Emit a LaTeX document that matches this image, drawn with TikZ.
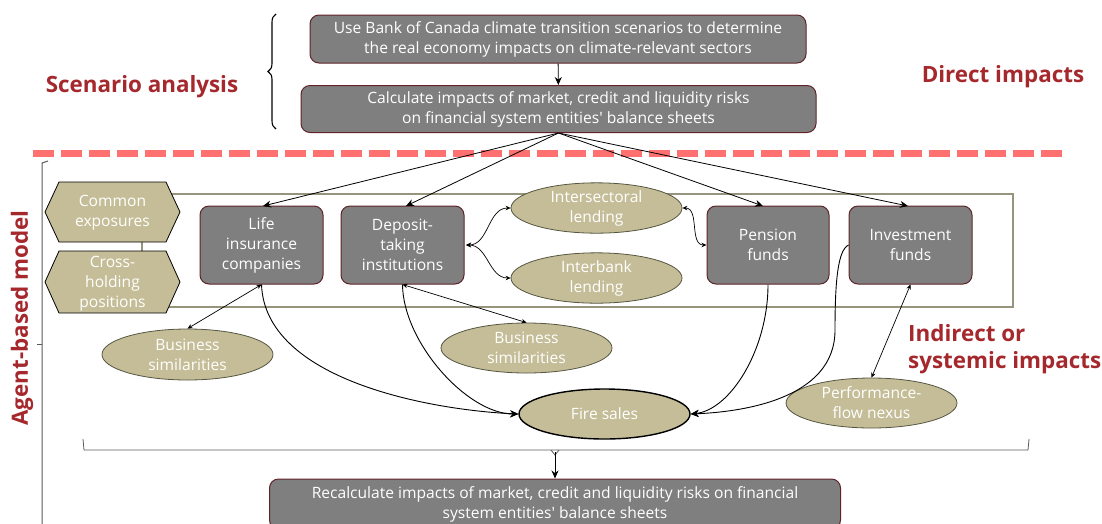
\documentclass[tikz,border=0pt]{standalone}
\usepackage{fontspec}
\setmainfont{Open Sans}
\usetikzlibrary{arrows.meta,shapes.geometric,decorations.pathreplacing}
\definecolor{boxgray}{RGB}{127,127,127}
\definecolor{boxedge}{RGB}{95,35,40}
\definecolor{olivefill}{RGB}{196,189,151}
\definecolor{oliveedge}{RGB}{85,85,65}
\definecolor{headred}{RGB}{165,40,45}
\definecolor{dashred}{RGB}{255,112,112}
\definecolor{frameol}{RGB}{150,148,125}
\definecolor{brgray}{RGB}{90,90,90}
\begin{document}
\begin{tikzpicture}[x=1pt,y=-1pt,
  txt/.style={font=\fontsize{15.6}{20}\selectfont},
  gbox/.style={txt, draw=boxedge, line width=1pt, fill=boxgray, rounded corners=9pt, text=white, align=center, inner sep=0pt},
  oell/.style={txt, ellipse, draw=oliveedge, line width=0.8pt, fill=olivefill, text=white, align=center, inner sep=0pt, minimum width=171pt, minimum height=50pt},
  hexshape/.style={draw=black, line width=0.8pt, fill=olivefill},
  hextext/.style={txt, text=white, align=center, inner sep=0pt},
  head/.style={font=\fontsize{22.4}{27}\selectfont\bfseries, text=headred, align=left, inner sep=0pt},
  arr/.style={-{Stealth[length=8pt,width=7pt]}, line width=0.9pt, black},
  darr/.style={{Stealth[length=5pt,width=4.5pt]}-{Stealth[length=5pt,width=4.5pt]}, line width=0.7pt, black},
  brk/.style={draw=brgray, line width=1pt},
]
\useasboundingbox (0,0) rectangle (1102,523);
\clip (0,0) rectangle (1102,523);

% top boxes
\node[gbox, minimum width=496pt, minimum height=48pt] (top1) at (558,39) {Use Bank of Canada climate transition scenarios to determine\\the real economy impacts on climate-relevant sectors};
\node[gbox, minimum width=515pt, minimum height=47pt] (top2) at (558.5,109) {Calculate impacts of market, credit and liquidity risks\\on financial system entities\textquotesingle{} balance sheets};
\draw[arr] (top1) -- (top2);

% brace
\draw[black, line width=1.1pt, decorate, decoration={brace, amplitude=8pt}] (276,129) -- (276,14);

% headings
\node[head] (scen) at (142,87) {Scenario analysis};
\node[head] (direct) at (1003,77) {Direct impacts};
\node[head, anchor=west] (indirect) at (908,349) {Indirect or\\systemic impacts};
\node[head, rotate=90] (abm) at (22,318) {Agent-based model};

% dashed line
\draw[dashred, line width=7pt, dash pattern=on 21pt off 7pt] (33,153) -- (1062,153);

% left bracket
\draw[brk] (48,161) -- (42,163) -- (42,540);
\draw[brk] (42,344) -- (37,344);

% frame rectangle
\draw[frameol, line width=1.4pt] (142,194) rectangle (1013,307);

% hexagons
\draw[hexshape] (45,212) -- (59,182) -- (166,182) -- (180,212) -- (166,242) -- (59,242) -- cycle;
\node[hextext] (hex1) at (112.5,213) {Common\\exposures};
\draw[hexshape] (45,282) -- (59,251) -- (166,251) -- (180,282) -- (166,313) -- (59,313) -- cycle;
\node[hextext] (hex2) at (112.5,284) {Cross-\\holding\\positions};

% agent boxes
\node[gbox, minimum width=123pt, minimum height=78pt] (life) at (261.5,245) {Life\\insurance\\companies};
\node[gbox, minimum width=123pt, minimum height=78pt] (dep) at (402.5,245) {Deposit-\\taking\\institutions};
\node[gbox, minimum width=122pt, minimum height=78pt] (pens) at (768,245) {Pension\\funds};
\node[gbox, minimum width=123pt, minimum height=78pt] (inv) at (910.5,245) {Investment\\funds};

% ellipses
\node[oell] (inter) at (596.5,208) {Intersectoral\\lending};
\node[oell] (interb) at (596.5,278) {Interbank\\lending};
\node[oell, minimum height=51pt] (bs1) at (187.5,354.5) {Business\\similarities};
\node[oell] (bs2) at (526.5,348) {Business\\similarities};
\node[oell, draw=black, line width=1.4pt] (fire) at (604.5,414) {Fire sales};
\node[oell] (perf) at (871.5,403) {Performance-\\flow nexus};

% arrows from top2
\coordinate (src) at (top2.south);
\draw[arr, line width=0.8pt] (src) -- (263,206);
\draw[arr, line width=0.8pt] (src) -- (406,206);
\draw[arr, line width=0.8pt] (src) -- (763,206);
\draw[arr, line width=0.8pt] (src) -- (908,206);

% double arrows
\draw[darr] (466,245) to[out=0,in=180] (inter.west);
\draw[darr] (466,245) to[out=0,in=180] (interb.west);
\draw[darr] (inter.east) to[out=0,in=180] (pens.west);
\draw[darr] (life.south) -- (bs1.north);
\draw[darr] (dep.south) -- (bs2.north);
\draw[darr] (inv.south) -- (perf.north);

% curves to fire sales
\draw[arr] (life.south) .. controls (265,380) and (430,410) .. (fire.west);
\draw[arr] (dep.south) .. controls (403,342) and (467,414) .. (fire.west);
\draw[arr] (pens.south) .. controls (768,350) and (730,410) .. (fire.east);
\draw[arr] (inv.west) .. controls (838,250) and (835,280) .. (835,330) .. controls (835,400) and (740,412) .. (fire.east);

% bottom bracket
\draw[brk, line width=0.8pt] (83,439) -- (84,450) -- (1028,450) -- (1029,439);
\draw[brk, line width=0.8pt] (551,450) -- (555,455) -- (559,450);
\node[gbox, minimum width=571pt, minimum height=50pt] (bot) at (555,504) {Recalculate impacts of market, credit and liquidity risks on financial\\system entities\textquotesingle{} balance sheets};
\draw[arr] (555,452) -- (bot.north);
\end{tikzpicture}
\end{document}
